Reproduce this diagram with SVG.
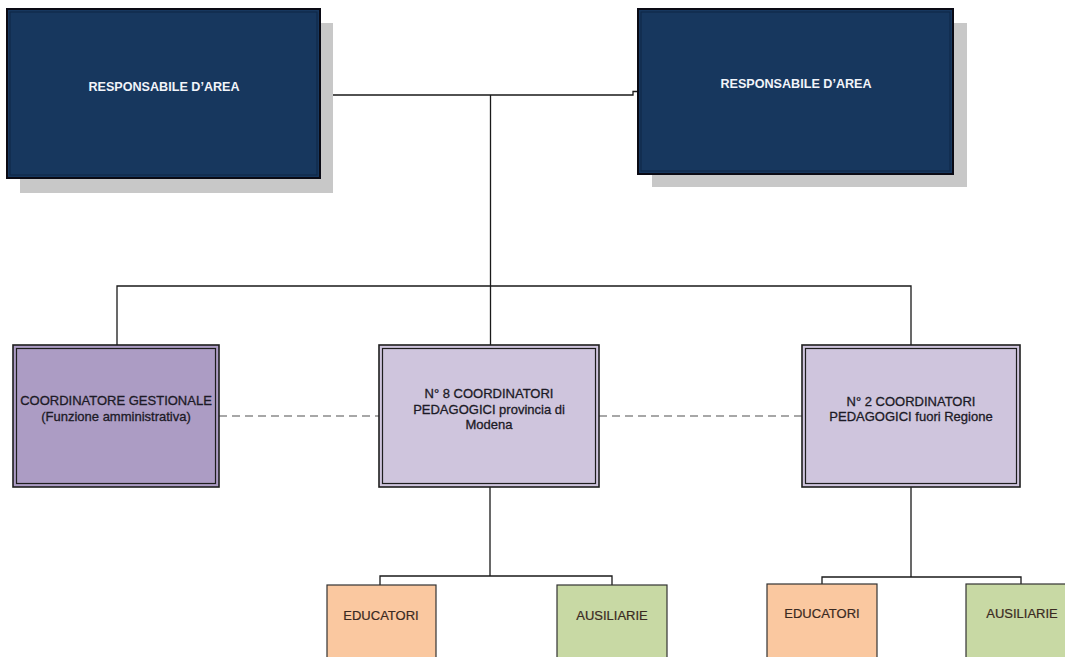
<svg xmlns="http://www.w3.org/2000/svg" width="1065" height="657" viewBox="0 0 1065 657">
<style>
  .shadow { fill: #c8c8c8; }
  .top { fill: #17375e; stroke: #0a0a14; stroke-width: 2; }
  .topinner { fill: none; stroke: #0f2745; stroke-width: 1; }
  .outer { stroke: #1e1e1e; stroke-width: 1.6; }
  .inner { fill: none; stroke: #1e1e1e; stroke-width: 1.2; }
  .b1 { fill: #ac9cc4; }
  .b2 { fill: #cfc5dd; }
  .edu { fill: #fac8a0; stroke: #333; stroke-width: 1.2; }
  .aus { fill: #c8d9a4; stroke: #333; stroke-width: 1.2; }
  .tw { font-family: "Liberation Sans", Arial, sans-serif; font-size: 12.6px; font-weight: bold; fill: #f2f4fa; text-anchor: middle; }
  .td { font-family: "Liberation Sans", Arial, sans-serif; font-size: 13px; fill: #1c1a26; stroke: #1c1a26; stroke-width: 0.3; text-anchor: middle; }
  .tb { font-family: "Liberation Sans", Arial, sans-serif; font-size: 13px; fill: #3a2a22; stroke: #3a2a22; stroke-width: 0.2; text-anchor: middle; }
  .ln { fill: none; stroke: #1a1a1a; stroke-width: 1.3; }
  .dash { fill: none; stroke: #8a8a8a; stroke-width: 1.5; stroke-dasharray: 8 5; }
</style>
<rect width="1065" height="657" fill="#ffffff"/>
<g id="connectors">
  <path class="ln" d="M320,95 H633 V91.5 H638"/>
  <path class="ln" d="M490.5,95 V345"/>
  <path class="ln" d="M117,345 V286 H911 V345"/>
  <path class="ln" d="M490,487 V576 M380,585 V576 H612 V585"/>
  <path class="ln" d="M911,487 V577 M822,585 V577 H1021 V585"/>
  <path class="dash" d="M219,416 H379"/>
  <path class="dash" d="M599,416 H802"/>
</g>
<g id="resp1">
  <rect class="shadow" x="20" y="23" width="313" height="170"/>
  <rect class="top" x="7" y="9" width="313" height="169"/>
  <rect class="topinner" x="10" y="12" width="307" height="163"/>
  <text class="tw" x="164" y="90.5">RESPONSABILE D’AREA</text>
</g>
<g id="resp2">
  <rect class="shadow" x="652" y="23" width="315" height="164"/>
  <rect class="top" x="638" y="9" width="315" height="165"/>
  <rect class="topinner" x="641" y="12" width="309" height="159"/>
  <text class="tw" x="796" y="88">RESPONSABILE D’AREA</text>
</g>
<g id="coord-gestionale">
  <rect class="b1 outer" x="13" y="345" width="206" height="142"/>
  <rect class="inner" x="16.5" y="348.5" width="199" height="135"/>
  <text class="td" x="116" y="405">COORDINATORE GESTIONALE</text>
  <text class="td" x="116" y="421">(Funzione amministrativa)</text>
</g>
<g id="coord-modena">
  <rect class="b2 outer" x="379" y="345" width="220" height="142"/>
  <rect class="inner" x="382.5" y="348.5" width="213" height="135"/>
  <text class="td" x="489" y="398">N° 8 COORDINATORI</text>
  <text class="td" x="489" y="413.5">PEDAGOGICI provincia di</text>
  <text class="td" x="489" y="429">Modena</text>
</g>
<g id="coord-fuori">
  <rect class="b2 outer" x="802" y="345" width="218" height="142"/>
  <rect class="inner" x="805.5" y="348.5" width="211" height="135"/>
  <text class="td" x="911" y="406">N° 2 COORDINATORI</text>
  <text class="td" x="911" y="421">PEDAGOGICI fuori Regione</text>
</g>
<g id="educatori1">
  <rect class="edu" x="327" y="585" width="109" height="80"/>
  <text class="tb" x="381" y="620">EDUCATORI</text>
</g>
<g id="ausiliarie1">
  <rect class="aus" x="557" y="585" width="110" height="80"/>
  <text class="tb" x="612" y="620">AUSILIARIE</text>
</g>
<g id="educatori2">
  <rect class="edu" x="767" y="584" width="110" height="80"/>
  <text class="tb" x="822" y="618">EDUCATORI</text>
</g>
<g id="ausiliarie2">
  <rect class="aus" x="966" y="584" width="112" height="80"/>
  <text class="tb" x="1022" y="618">AUSILIARIE</text>
</g>
</svg>
